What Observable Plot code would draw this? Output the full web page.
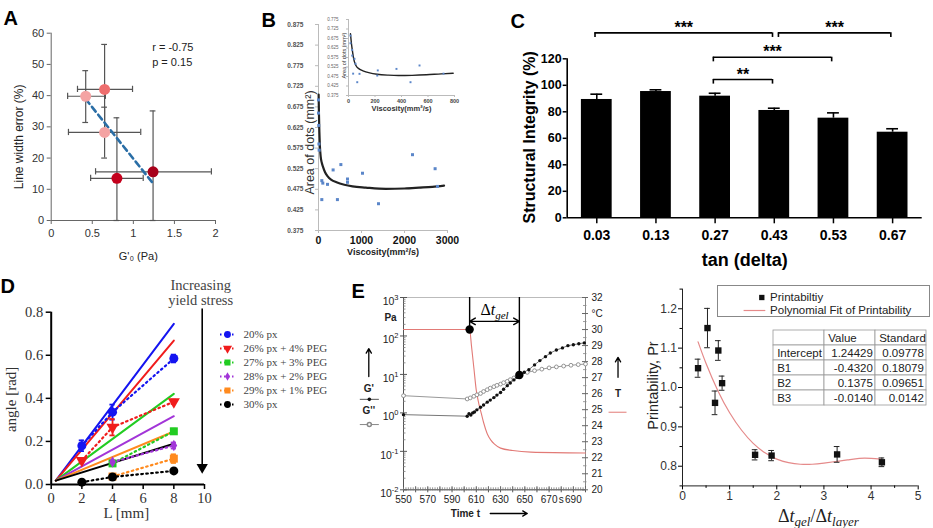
<!DOCTYPE html>
<html><head><meta charset="utf-8">
<script src="https://cdn.jsdelivr.net/npm/d3@7"></script>
<script src="https://cdn.jsdelivr.net/npm/@observablehq/plot@0.6"></script>
<style>
html,body{margin:0;padding:0;background:#fff;}
#fig{position:relative;width:933px;height:528px;overflow:hidden;background:#fff;}
.letter{position:absolute;font-family:"Liberation Sans",Arial,sans-serif;font-weight:bold;font-size:20px;line-height:20px;color:#000;}
</style></head>
<body><div id="fig">
<div class="letter" style="left:3.5px;top:7.5px">A</div>
<div class="letter" style="left:261.5px;top:9.5px">B</div>
<div class="letter" style="left:510.5px;top:10.5px">C</div>
<div class="letter" style="left:0.5px;top:275.5px">D</div>
<div class="letter" style="left:351.5px;top:280.5px">E</div>
</div>
<script>
// ---------------- Panel A data ----------------
const aG0 = [0.42, 0.65, 0.65, 0.80, 1.24];
const aLineErr = [39.8, 42.0, 28.2, 13.5, 15.6];
const aG0Low = [0.20, 0.32, 0.21, 0.48, 0.54];
const aG0High = [0.66, 0.99, 1.09, 1.12, 1.95];
const aErrLow = [31.4, 27.6, 20.0, 0, 0];
const aErrHigh = [48.0, 56.4, 36.3, 32.9, 35.1];
const aFillColors = ["#f4a3a3", "#ee6e6e", "#f4a3a3", "#c4001c", "#a8001a"];
const aFitG0 = [0.42, 1.23];
const aFitErr = [38.9, 12.2];
const aStats = ["r = -0.75", "p = 0.15"];
const aXTicks = [0, 0.5, 1, 1.5, 2];
const aYTicks = [0, 10, 20, 30, 40, 50, 60];

// ---------------- Panel B data ----------------
const bViscosity = [0, 0, 5, 10, 15, 77, 100, 77, 210, 340, 440, 520, 675, 675, 1023, 1395, 2186, 2712, 2767];
const bArea = [0.692, 0.660, 0.630, 0.585, 0.570, 0.496, 0.490, 0.450, 0.487, 0.522, 0.450, 0.535, 0.500, 0.492, 0.514, 0.440, 0.559, 0.525, 0.482];
const bFitViscosity = [3, 10, 20, 30, 50, 75, 107, 150, 209, 300, 419, 600, 791, 1100, 1565, 2000, 2340, 2650, 2920];
const bFitArea = [0.705, 0.660, 0.615, 0.585, 0.555, 0.540, 0.529, 0.517, 0.507, 0.498, 0.492, 0.486, 0.482, 0.479, 0.476, 0.477, 0.479, 0.481, 0.484];
const bYTicks = [0.375, 0.425, 0.475, 0.525, 0.575, 0.625, 0.675, 0.725, 0.775, 0.825, 0.875];
const bXTicks = [0, 1000, 2000, 3000];
const bInsetViscosity = [15, 15, 28, 28, 45, 35, 53, 66, 83, 217, 221, 362, 468, 536, 717];
const bInsetArea = [0.690, 0.650, 0.615, 0.585, 0.568, 0.490, 0.542, 0.445, 0.489, 0.480, 0.507, 0.515, 0.445, 0.533, 0.490];
const bInsetFitViscosity = [15, 22, 29, 40, 56, 80, 109, 160, 216, 300, 376, 480, 589, 700, 790];
const bInsetFitArea = [0.700, 0.650, 0.612, 0.565, 0.533, 0.515, 0.505, 0.494, 0.487, 0.482, 0.480, 0.481, 0.484, 0.489, 0.492];
const bInsetYTicks = [0.375, 0.425, 0.475, 0.525, 0.575, 0.625, 0.675, 0.725, 0.775];
const bInsetXTicks = [0, 200, 400, 600, 800];

// ---------------- Panel C data ----------------
const cTanDelta = ["0.03", "0.13", "0.27", "0.43", "0.53", "0.67"];
const cIntegrity = [89.3, 95.3, 91.8, 81.0, 75.2, 64.6];
const cErrorUp = [4.0, 1.3, 2.2, 1.7, 4.0, 2.6];
const cPairFrom = ["0.03", "0.43", "0.27", "0.27"];
const cPairTo = ["0.43", "0.67", "0.53", "0.43"];
const cPairLevel = [139.6, 139.6, 121.2, 104.4];
const cPairStars = ["***", "***", "***", "**"];
const cYTicks = [0, 20, 40, 60, 80, 100, 120];

// ---------------- Panel D data ----------------
const dSeries = ["20% px", "26% px + 4% PEG", "27% px + 3% PEG", "28% px + 2% PEG", "29% px + 1% PEG", "30% px"];
const dColors = ["#1414f0", "#f01c1c", "#22cc22", "#a235d8", "#ff8a1e", "#000000"];
const dSymbols = ["circle", "triangle", "square", "diamond", "square", "circle"];
const dSymbolTurn = [0, 180, 0, 0, 0, 0];
const dPointSeries = [0, 0, 0, 1, 1, 1, 2, 2, 3, 3, 4, 4, 5, 5, 5];
const dPointL = [2, 4, 8, 2, 4, 8, 4, 8, 4, 8, 4, 8, 2, 4, 8];
const dPointAngle = [0.180, 0.336, 0.585, 0.111, 0.266, 0.384, 0.098, 0.247, 0.104, 0.181, 0.037, 0.120, 0.011, 0.035, 0.063];
const dPointErr = [0.025, 0.035, 0.018, 0.010, 0.038, 0.010, 0.010, 0.012, 0.008, 0.014, 0.008, 0.020, 0.004, 0.004, 0.004];
const dFitL = [0.3, 8];
const dFitStartAngle = 0.018;
const dFitEndAngle = [0.746, 0.668, 0.421, 0.317, 0.246, 0.189];
const dXTicks = [0, 2, 4, 6, 8, 10];
const dYTicks = [0, 0.2, 0.4, 0.6, 0.8];
const dNote = "Increasing\nyield stress";
const dNoteArrow = {L: 9.85, top: 0.815, tip: 0.062};

// ---------------- Panel E data ----------------
const eTempTime = [550, 603, 604.5, 606, 608, 610, 612, 614, 616, 619, 622, 625, 630, 640, 655, 700];
const eTempC = [30, 30, 30, 29.0, 27.6, 26.2, 25.4, 24.8, 24.2, 23.5, 23.1, 22.85, 22.6, 22.45, 22.35, 22.3];
const eGpTime = [550, 602.5, 604, 605.5, 607, 608.5, 610.5, 613.5, 616, 619, 621.5, 624.5, 627, 630, 632.5, 635.5, 638, 641, 643.5, 646, 649.5, 653.3, 658, 662.4, 667, 671, 676, 681, 685.5, 690, 694.5, 699];
const eGpPa = [0.90, 0.82, 0.95, 0.88, 1.00, 1.05, 1.20, 1.40, 1.60, 1.90, 2.15, 2.50, 2.90, 3.40, 4.10, 5.10, 6.00, 7.20, 8.40, 9.80, 11.4, 13.3, 17.7, 22.9, 29.0, 36.0, 43.0, 49.0, 56.0, 59.0, 63.0, 66.0];
const eGppTime = [550, 602.5, 605, 608, 610.5, 613.5, 616, 619, 621.5, 624.5, 627, 630, 632.5, 635.5, 638, 641, 643.5, 646, 652, 658, 664, 670, 676, 682, 688, 694, 700];
const eGppPa = [2.8, 2.3, 2.45, 2.7, 2.95, 3.2, 3.6, 4.0, 4.4, 4.8, 5.2, 5.6, 6.1, 6.6, 7.3, 8.1, 8.9, 9.8, 11.3, 12.5, 13.7, 14.8, 15.7, 16.5, 17.3, 18.0, 18.6];
const eGelTime = [604.5, 645.5];
const eGelPa = [147, 9.7];
const eGelArrowPa = 240;
const eDecades = [0.01, 0.1, 1, 10, 100, 1000];
const eTempTicks = [20, 21, 22, 23, 24, 25, 26, 27, 28, 29, 30, 31, 32];
const eTempTickLabels = ["20", "21", "22", "23", "24", "25", "26", "27", "28", "29", "30", "°C", "32"];
const eTimeTicks = [550, 570, 590, 610, 630, 650, 670, 680, 690];
const eTimeTickLabels = ["550", "570", "590", "610", "630", "650", "670", "s", "690"];
const eSideNotes = [
  {t: 539.3, pa: 302, label: "Pa"},
  {t: 521.4, pa: 4.27, label: "G'"},
  {t: 521.4, pa: 1.15, label: "G''"},
  {t: 726.8, pa: 3.16, label: "T"},
  {t: 601, pa: 0.00242, label: "Time t"}
];
const eSideArrows = [
  {x1: 521.4, x2: 521.4, y1: 8.8, y2: 47},
  {x1: 726.8, x2: 726.8, y1: 8.4, y2: 27.8},
  {x1: 621.5, x2: 652, y1: 0.00242, y2: 0.00242}
];
const eGlyphLines = [
  {t1: 514, t2: 529.7, pa: 2.25, color: "#555"},
  {t1: 514, t2: 529.7, pa: 0.497, color: "#888"},
  {t1: 719, t2: 733.8, pa: 1.04, color: "#e27a76"}
];

// ---------------- Panel F data ----------------
const fGelLayerRatio = [0.33, 0.53, 0.69, 0.76, 0.84, 1.54, 1.89, 3.28, 4.23];
const fPrintability = [1.049, 1.151, 0.961, 1.094, 1.011, 0.829, 0.827, 0.830, 0.810];
const fPrintabilityErr = [0.023, 0.050, 0.030, 0.025, 0.018, 0.013, 0.013, 0.020, 0.011];
const fFitRatio = [0.33, 0.5, 0.75, 1.0, 1.25, 1.5, 1.75, 2.0, 2.25, 2.5, 2.75, 3.0, 3.25, 3.5, 3.75, 4.0, 4.2];
const fFitPrintability = [1.116, 1.061, 0.992, 0.936, 0.892, 0.858, 0.834, 0.818, 0.809, 0.805, 0.805, 0.808, 0.812, 0.816, 0.820, 0.820, 0.818];
const fXTicks = [0, 1, 2, 3, 4, 5];
const fXMinor = [0.5, 1.5, 2.5, 3.5, 4.5];
const fYTicks = [0.8, 0.9, 1.0, 1.1, 1.2];
const fYMinor = [0.75, 0.85, 0.95, 1.05, 1.15, 1.25];
const fLegendLabels = ["Printabiltiy", "Polynomial Fit of Printability"];
const fTableHeader = ["", "Value", "Standard"];
const fTableTerms = ["Intercept", "B1", "B2", "B3"];
const fTableValue = ["1.24429", "-0.4320", "0.1375", "-0.0140"];
const fTableStandard = ["0.09778", "0.18079", "0.09651", "0.0142"];

// ---------------- helpers ----------------
const SANS = '"Liberation Sans", Arial, Helvetica, sans-serif';
const SERIF = '"Liberation Serif", "Times New Roman", serif';
const fig = document.getElementById("fig");
function css(family, size) {
  return {fontFamily: family, fontSize: size + "px", background: "transparent", overflow: "visible", maxWidth: "none", color: "#000"};
}
function put(node, left, top) {
  node.style.position = "absolute";
  node.style.left = left + "px";
  node.style.top = top + "px";
  fig.appendChild(node);
  return node;
}
function richify(svg, map) {
  svg.querySelectorAll("text").forEach(t => {
    if (map.has(t.textContent)) t.innerHTML = map.get(t.textContent);
  });
}
function title(str, opts) {
  return Plot.text([str], {text: d => d, textAnchor: "middle", lineAnchor: "middle", ...opts});
}

// ================= Panel A =================
{
  const data = aG0.map((g, i) => ({g, e: aLineErr[i], gLo: aG0Low[i], gHi: aG0High[i], eLo: aErrLow[i], eHi: aErrHigh[i], fill: aFillColors[i]}));
  const fit = aFitG0.map((g, i) => ({g, e: aFitErr[i]}));
  const capsV = data.flatMap(d => [{g: d.g, e: d.eLo}, {g: d.g, e: d.eHi}]);
  const capsH = data.flatMap(d => [{g: d.gLo, e: d.e}, {g: d.gHi, e: d.e}]);
  put(Plot.plot({
    width: 233, height: 262, marginLeft: 50.7, marginRight: 18, marginTop: 32.7, marginBottom: 42,
    x: {domain: [0, 2]}, y: {domain: [0, 60]}, color: {type: "identity"},
    style: css(SANS, 11),
    marks: [
      Plot.axisX(aXTicks, {tickSize: 4, tickPadding: 5, fontSize: 11, stroke: "#666", fill: "#333", label: null, tickFormat: d => String(d)}),
      Plot.axisY(aYTicks, {tickSize: 4, tickPadding: 3, fontSize: 11, stroke: "#666", fill: "#333", label: null}),
      Plot.ruleX([0], {stroke: "#666"}),
      Plot.ruleY([0], {stroke: "#666"}),
      Plot.ruleY(data, {y: "e", x1: "gLo", x2: "gHi", stroke: "#555", strokeWidth: 1.2}),
      Plot.ruleX(data, {x: "g", y1: "eLo", y2: "eHi", stroke: "#555", strokeWidth: 1.2}),
      Plot.ruleY(capsV, {y: "e", x1: d => d.g - 0.035, x2: d => d.g + 0.035, stroke: "#555", strokeWidth: 1.2}),
      Plot.ruleX(capsH, {x: "g", y1: d => d.e - 1.0, y2: d => d.e + 1.0, stroke: "#555", strokeWidth: 1.2}),
      Plot.line(fit, {x: "g", y: "e", stroke: "#2a6ea6", strokeWidth: 2.6, strokeDasharray: "6,4"}),
      Plot.dot(data, {x: "g", y: "e", r: 5.5, fill: "fill"}),
      Plot.text([aStats.join("\n")], {text: d => d, frameAnchor: "top-left", textAnchor: "start", lineAnchor: "top", dx: 101, dy: 6, lineHeight: 1.45, fontSize: 11, fill: "#222"}),
      title("Line width error (%)", {frameAnchor: "left", rotate: -90, dx: -32, dy: 10, fontSize: 12, fill: "#222"}),
      title("G'₀ (Pa)", {frameAnchor: "bottom", dx: 5, dy: 36, fontSize: 11, fill: "#222"})
    ]
  }), 0, 0);
}

// ================= Panel B =================
{
  const pts = bViscosity.map((v, i) => ({v, a: bArea[i]}));
  const fit = bFitViscosity.map((v, i) => ({v, a: bFitArea[i]}));
  put(Plot.plot({
    width: 230, height: 262, marginLeft: 78, marginRight: 23, marginTop: 24, marginBottom: 32,
    x: {domain: [0, 3000]}, y: {domain: [0.375, 0.875]},
    style: css(SANS, 10),
    marks: [
      Plot.ruleX([0], {stroke: "#bbb"}),
      Plot.ruleY([0.375], {stroke: "#bbb"}),
      Plot.axisY(bYTicks, {tickSize: 3, tickPadding: 12, tickFormat: d3.format(".3f"), fontSize: 6.5, fontWeight: "bold", fill: "#555", stroke: "#bbb", label: null}),
      Plot.axisX(bXTicks, {tickSize: 3, tickPadding: 3, tickFormat: d => String(d), fontSize: 10.5, fontWeight: "bold", fill: "#111", stroke: "#bbb", label: null}),
      Plot.line(fit, {x: "v", y: "a", stroke: "#222", strokeWidth: 2.2, curve: "monotone-x"}),
      Plot.dot(pts, {x: "v", y: "a", symbol: "square", r: 1.7, fill: "#5b86c9"}),
      title("Area of dots (mm²)", {frameAnchor: "left", rotate: -90, dx: -9, dy: 15, fontSize: 12.5, fill: "#333"}),
      title("Viscosity(mm²/s)", {frameAnchor: "bottom", dy: 22, fontSize: 9, fontWeight: "bold", fill: "#222"})
    ]
  }), 240, 0);

  const ipts = bInsetViscosity.map((v, i) => ({v, a: bInsetArea[i]}));
  const ifit = bInsetFitViscosity.map((v, i) => ({v, a: bInsetFitArea[i]}));
  put(Plot.plot({
    width: 162, height: 110, marginLeft: 48, marginRight: 8, marginTop: 9, marginBottom: 25,
    x: {domain: [0, 800]}, y: {domain: [0.375, 0.775]},
    style: css(SANS, 6),
    marks: [
      Plot.ruleX([0], {stroke: "#bbb"}),
      Plot.ruleY([0.375], {stroke: "#bbb"}),
      Plot.axisY(bInsetYTicks, {tickSize: 2, tickPadding: 8, tickFormat: d3.format(".3f"), fontSize: 4.5, fill: "#666", stroke: "#bbb", label: null}),
      Plot.axisX(bInsetXTicks, {tickSize: 2, tickPadding: 2, tickFormat: d => String(d), fontSize: 5.5, fontWeight: "bold", fill: "#444", stroke: "#bbb", label: null}),
      Plot.line(ifit, {x: "v", y: "a", stroke: "#222", strokeWidth: 1.4, curve: "monotone-x"}),
      Plot.dot(ipts, {x: "v", y: "a", symbol: "square", r: 1.1, fill: "#5b86c9"}),
      title("Area of dots (mm²)", {frameAnchor: "left", rotate: -90, dx: -4.5, dy: -2, fontSize: 5.5, fill: "#333"}),
      title("Viscosity(mm²/s)", {frameAnchor: "bottom", dy: 13, fontSize: 7.5, fontWeight: "bold", fill: "#333"})
    ]
  }), 300, 10);
}

// ================= Panel C =================
{
  const data = cTanDelta.map((t, i) => ({i, v: cIntegrity[i], e: cErrorUp[i]}));
  const pairs = cPairFrom.map((f, k) => ({a: cTanDelta.indexOf(f), b: cTanDelta.indexOf(cPairTo[k]), y: cPairLevel[k], s: cPairStars[k]}));
  const joined = p => pairs.some(o => o !== p && o.y === p.y && o.b === p.a);
  const left = p => p.a + (joined(p) ? 0.07 : -0.03);
  const right = p => p.b - 0.03;
  put(Plot.plot({
    width: 463, height: 272, marginLeft: 96.7, marginRight: 11.3, marginTop: 58.3, marginBottom: 54.7,
    x: {domain: [-0.5, 5.5]}, y: {domain: [0, 120]},
    style: css(SANS, 12),
    marks: [
      Plot.rectY(data, {x1: d => d.i - 0.26, x2: d => d.i + 0.26, y: "v", fill: "black"}),
      Plot.ruleX(data, {x: "i", y1: "v", y2: d => d.v + d.e, strokeWidth: 1.6}),
      Plot.ruleY(data, {y: d => d.v + d.e, x1: d => d.i - 0.1, x2: d => d.i + 0.1, strokeWidth: 1.6}),
      Plot.ruleX([-0.5], {y1: 0, y2: 120, strokeWidth: 1.6}),
      Plot.ruleY([0], {strokeWidth: 1.6}),
      Plot.axisY(cYTicks, {tickSize: 4, tickPadding: 1.5, fontSize: 12.5, fontWeight: "bold", label: null, strokeWidth: 1.5}),
      Plot.axisX(d3.range(cTanDelta.length), {tickFormat: i => cTanDelta[i], tickSize: 6, tickPadding: 6, fontSize: 14, fontWeight: "bold", label: null, strokeWidth: 1.5}),
      Plot.ruleY(pairs, {y: "y", x1: left, x2: right, strokeWidth: 1.6}),
      Plot.ruleX(pairs, {x: left, y1: d => d.y - 3.5, y2: "y", strokeWidth: 1.6}),
      Plot.ruleX(pairs, {x: right, y1: d => d.y - 3.5, y2: "y", strokeWidth: 1.6}),
      Plot.text(pairs, {x: d => (left(d) + right(d)) / 2, y: "y", text: "s", dy: -5, fontSize: 16, fontWeight: "bold"}),
      title("Structural Integrity (%)", {frameAnchor: "left", rotate: -90, dx: -37, dy: -1, fontSize: 16, fontWeight: "bold"}),
      title("tan (delta)", {frameAnchor: "bottom", dy: 42, fontSize: 18, fontWeight: "bold"})
    ]
  }), 470, 0);
}

// ================= Panel D =================
{
  const pts = dPointL.map((L, k) => ({s: dPointSeries[k], L, a: dPointAngle[k], e: dPointErr[k]}));
  const fitMarks = [], otherMarks = [], dotMarks = [];
  dSeries.forEach((name, s) => {
    const c = dColors[s];
    const sp = pts.filter(p => p.s === s);
    fitMarks.push(Plot.line([{L: dFitL[0], a: dFitStartAngle}, {L: dFitL[1], a: dFitEndAngle[s]}], {x: "L", y: "a", stroke: c, strokeWidth: 2}));
    otherMarks.push(
      Plot.line(sp, {x: "L", y: "a", stroke: c, strokeWidth: 2.2, strokeDasharray: "1.6,3.4", strokeLinecap: "round"}),
      Plot.ruleX(sp, {x: "L", y1: d => d.a - d.e, y2: d => d.a + d.e, stroke: c, strokeWidth: 1.8}),
      Plot.ruleY(sp.flatMap(p => [{L: p.L, y: p.a - p.e}, {L: p.L, y: p.a + p.e}]), {y: "y", x1: d => d.L - 0.17, x2: d => d.L + 0.17, stroke: c, strokeWidth: 1.8})
    );
    dotMarks.push(Plot.dot(sp, {x: "L", y: "a", symbol: dSymbols[s], rotate: dSymbolTurn[s], r: dSymbols[s] === "diamond" ? 3.5 : 4.5, fill: c}));
  });
  put(Plot.plot({
    width: 215, height: 278, marginLeft: 50.7, marginRight: 11, marginTop: 61.7, marginBottom: 44,
    x: {domain: [0, 10]}, y: {domain: [0, 0.8]},
    style: css(SERIF, 14.5),
    marks: [
      Plot.axisX(dXTicks, {tickSize: 5, tickPadding: 3, fontSize: 14.5, label: null, strokeWidth: 1.5, fill: "#333"}),
      Plot.axisY(dYTicks, {tickSize: 5, tickPadding: 3, fontSize: 14.5, label: null, strokeWidth: 1.5, tickFormat: d3.format(".1f"), fill: "#333"}),
      Plot.ruleX([0], {y1: 0, y2: 0.8, strokeWidth: 2}),
      Plot.ruleY([0], {x1: 0, x2: 10, strokeWidth: 2}),
      ...fitMarks, ...otherMarks, ...dotMarks,
      Plot.ruleX([dNoteArrow], {x: "L", y1: "top", y2: d => d.tip + 0.03, strokeWidth: 1.6}),
      Plot.dot([dNoteArrow], {x: "L", y: d => d.tip + 0.018, symbol: "triangle", rotate: 180, r: 4.2, fill: "black"}),
      Plot.text([dNote], {text: d => d, x: dNoteArrow.L, y: dNoteArrow.top, dx: -1.5, dy: -4, textAnchor: "middle", lineAnchor: "bottom", lineHeight: 1.05, fontSize: 14.5, fill: "#444"}),
      title("angle [rad]", {frameAnchor: "left", rotate: -90, dx: -40, dy: 1, fontSize: 15, fill: "#333"}),
      title("L [mm]", {frameAnchor: "bottom", dx: -1.5, dy: 29, fontSize: 15, fill: "#333"})
    ]
  }), 0, 250);

  put(Plot.plot({
    width: 115, height: 90, marginTop: 0, marginRight: 0, marginBottom: 0, marginLeft: 0,
    x: {domain: [0, 115], range: [0, 115], axis: null},
    y: {type: "point", domain: dSeries, range: [8, 80.5], padding: 0, axis: null},
    style: css(SERIF, 11),
    marks: [
      ...dSeries.map((s, i) => Plot.ruleY([s], {y: d => d, x1: 5, x2: 21, stroke: dColors[i], strokeWidth: 2, strokeDasharray: "1.5,2.5"})),
      ...dSeries.map((s, i) => Plot.dot([s], {x: 12, y: d => d, symbol: dSymbols[i], rotate: dSymbolTurn[i], r: dSymbols[i] === "diamond" ? 2.6 : 3.4, fill: dColors[i]})),
      Plot.text(dSeries, {x: 28, y: d => d, text: d => d, textAnchor: "start", lineAnchor: "middle", fontSize: 11, fill: "#444"})
    ]
  }), 215, 325);
}

// ================= Panel E =================
{
  const tToPa = T => 10 ** ((T - 20) * 5 / 12 - 2);
  const temp = eTempTime.map((t, i) => ({t, T: eTempC[i]}));
  const gp = eGpTime.map((t, i) => ({t, pa: eGpPa[i]}));
  const gpp = eGppTime.map((t, i) => ({t, pa: eGppPa[i]}));
  const gel = eGelTime.map((t, i) => ({t, pa: eGelPa[i]}));
  const gelMid = (eGelTime[0] + eGelTime[1]) / 2;
  const tempTicks = eTempTicks.map((T, i) => ({T, label: eTempTickLabels[i]}));
  const minorLog = eDecades.slice(0, -1).flatMap(d => [2, 3, 4, 5, 6, 7, 8, 9].map(m => d * m));
  const minorTemp = eTempTicks.slice(0, -1).map(T => T + 0.5);
  const majorTime = d3.range(550, 701, 10);
  const minorTime = d3.range(550, 701, 2);
  const W = 300, ML = 73, MR = 45, H = 278, MT = 47, MB = 38.7;
  const fw = W - ML - MR, fh = H - MT - MB;
  const svg = put(Plot.plot({
    width: W, height: H, marginLeft: ML, marginRight: MR, marginTop: MT, marginBottom: MB,
    x: {domain: [550, 700]}, y: {type: "log", domain: [0.01, 1000]},
    style: css(SANS, 10),
    marks: [
      Plot.frame({stroke: "#bbb"}),
      Plot.ruleX([550], {stroke: "#555"}),
      Plot.ruleY([0.01], {stroke: "#555"}),
      Plot.ruleX([700], {stroke: "#888"}),
      Plot.tickY(eDecades, {y: d => d, insetLeft: -3, insetRight: fw - 4, stroke: "#555"}),
      Plot.tickY(minorLog, {y: d => d, insetLeft: 0, insetRight: fw - 2.5, stroke: "#777", strokeWidth: 0.8}),
      Plot.axisY(eDecades, {tickSize: 0, tickPadding: 5, tickFormat: d => "10^" + Math.round(Math.log10(d)), fontSize: 10.5, dy: 4, label: null, fill: "#222"}),
      Plot.tickY(eTempTicks, {y: tToPa, insetLeft: fw - 3, insetRight: -3, stroke: "#666"}),
      Plot.tickY(minorTemp, {y: tToPa, insetLeft: fw - 2, insetRight: -1.5, stroke: "#888", strokeWidth: 0.8}),
      Plot.text(tempTicks, {x: 700, y: d => tToPa(d.T), text: "label", textAnchor: "start", lineAnchor: "middle", dx: 6, fontSize: 10, fill: "#222"}),
      Plot.tickX(majorTime, {x: d => d, insetTop: fh - 3, insetBottom: -3, stroke: "#555"}),
      Plot.tickX(minorTime, {x: d => d, insetTop: fh - 2, insetBottom: -1, stroke: "#777", strokeWidth: 0.8}),
      Plot.axisX(eTimeTicks, {tickSize: 0, tickPadding: 6, tickFormat: d => eTimeTickLabels[eTimeTicks.indexOf(d)], fontSize: 10, label: null, fill: "#222"}),
      Plot.line(temp, {x: "t", y: d => tToPa(d.T), stroke: "#e27a76", strokeWidth: 1.1, curve: "monotone-x"}),
      Plot.line(gpp, {x: "t", y: "pa", stroke: "#999", strokeWidth: 1}),
      Plot.line(gp, {x: "t", y: "pa", stroke: "#777", strokeWidth: 1}),
      Plot.dot(gpp, {x: "t", y: "pa", r: 1.9, stroke: "#888", fill: "white", strokeWidth: 0.9}),
      Plot.dot(gp, {x: "t", y: "pa", r: 1.7, fill: "#111"}),
      Plot.ruleX(gel, {x: "t", y1: "pa", y2: 1000, strokeWidth: 1.4}),
      Plot.dot(gel, {x: "t", y: "pa", r: 4.2, fill: "black"}),
      Plot.arrow(eGelTime, {x1: () => gelMid, x2: d => d, y1: eGelArrowPa, y2: eGelArrowPa, headLength: 7, strokeWidth: 1.4}),
      Plot.text(["Δt_gel"], {text: d => d, x: gelMid, y: 1000, dy: 12, textAnchor: "middle", lineAnchor: "middle", fontFamily: SERIF, fontSize: 16}),
      Plot.text(eSideNotes, {x: "t", y: "pa", text: "label", textAnchor: "middle", lineAnchor: "middle", fontSize: 10, fontWeight: "bold", fill: "#222"}),
      Plot.arrow(eSideArrows, {x1: "x1", x2: "x2", y1: "y1", y2: "y2", headLength: 6, strokeWidth: 1.3}),
      Plot.link(eGlyphLines, {x1: "t1", x2: "t2", y1: "pa", y2: "pa", stroke: "color", strokeWidth: 1}),
      Plot.dot([eGlyphLines[0]], {x: d => (d.t1 + d.t2) / 2, y: "pa", r: 1.8, fill: "#111"}),
      Plot.dot([eGlyphLines[1]], {x: d => (d.t1 + d.t2) / 2, y: "pa", r: 2, fill: "white", stroke: "#888"})
    ]
  }), 330, 250);
  const m = new Map(eDecades.map(d => { const k = Math.round(Math.log10(d)); return ["10^" + k, `10<tspan dy="-5" font-size="7.5">${k}</tspan>`]; }));
  m.set("Δt_gel", `Δ<tspan font-style="italic">t</tspan><tspan font-style="italic" font-size="11" dy="4">gel</tspan>`);
  richify(svg, m);
}

// ================= Panel F =================
{
  const data = fGelLayerRatio.map((x, i) => ({x, y: fPrintability[i], e: fPrintabilityErr[i]}));
  const fit = fFitRatio.map((x, i) => ({x, y: fFitPrintability[i]}));
  const caps = data.flatMap(d => [{x: d.x, y: d.y - d.e}, {x: d.x, y: d.y + d.e}]);
  const svg = put(Plot.plot({
    width: 303, height: 278, marginLeft: 52, marginRight: 15.3, marginTop: 38.6, marginBottom: 42.6,
    x: {domain: [0, 5]}, y: {domain: [0.75, 1.25]},
    style: css(SANS, 12),
    marks: [
      Plot.ruleX([0], {stroke: "#222"}),
      Plot.ruleY([0.75], {stroke: "#222"}),
      Plot.axisY(fYTicks, {tickSize: 4, tickPadding: 1.5, tickFormat: d3.format(".1f"), fontSize: 12, label: null, fill: "#333"}),
      Plot.axisY(fYMinor, {tickSize: 2.5, tickFormat: () => "", label: null}),
      Plot.axisX(fXTicks, {tickSize: 4, tickPadding: 2, fontSize: 12, label: null, fill: "#333"}),
      Plot.axisX(fXMinor, {tickSize: 2.5, tickFormat: () => "", label: null}),
      Plot.line(fit, {x: "x", y: "y", stroke: "#e58a8a", strokeWidth: 1.2, curve: "natural"}),
      Plot.ruleX(data, {x: "x", y1: d => d.y - d.e, y2: d => d.y + d.e, stroke: "#222", strokeWidth: 1}),
      Plot.ruleY(caps, {y: "y", x1: d => d.x - 0.06, x2: d => d.x + 0.06, stroke: "#222", strokeWidth: 1}),
      Plot.dot(data, {x: "x", y: "y", symbol: "square", r: 3.6, fill: "#111"}),
      title("Printability, Pr", {frameAnchor: "left", rotate: -90, dx: -28.7, dy: -2, fontSize: 14.5, fill: "#222"}),
      title("Δt_gel/Δt_layer", {frameAnchor: "bottom", dx: 18, dy: 30, fontSize: 18, fontFamily: SERIF, fill: "#222"})
    ]
  }), 630, 250);
  richify(svg, new Map([["Δt_gel/Δt_layer",
    `Δ<tspan font-style="italic">t</tspan><tspan font-style="italic" font-size="13" dy="4">gel</tspan><tspan dy="-4">/Δ</tspan><tspan font-style="italic">t</tspan><tspan font-style="italic" font-size="13" dy="4">layer</tspan>`]]));

  put(Plot.plot({
    width: 212, height: 31, marginTop: 0, marginRight: 0, marginBottom: 0, marginLeft: 0,
    x: {domain: [0, 212], range: [0, 212], axis: null},
    y: {type: "point", domain: fLegendLabels, range: [11.7, 25], padding: 0, axis: null},
    style: css(SANS, 11.5),
    marks: [
      Plot.frame({stroke: "#888", fill: "white"}),
      Plot.dot([fLegendLabels[0]], {x: 44.3, y: d => d, symbol: "square", r: 3, fill: "#111"}),
      Plot.ruleY([fLegendLabels[1]], {y: d => d, x1: 26.6, x2: 48.3, stroke: "#e58a8a", strokeWidth: 1.2}),
      Plot.text(fLegendLabels, {x: 52.6, y: d => d, text: d => d, textAnchor: "start", lineAnchor: "middle", fontSize: 11.5, fill: "#222"})
    ]
  }), 716.7, 285);

  const cols = ["term", "value", "standard"];
  const rows = ["head", ...fTableTerms];
  const colText = [fTableTerms, fTableValue, fTableStandard];
  const cells = rows.flatMap((r, ri) => cols.map((c, ci) => ({r, c, text: ri === 0 ? fTableHeader[ci] : colText[ci][ri - 1]})));
  const bw = 155 / 3;
  put(Plot.plot({
    width: 155, height: 75, marginTop: 0, marginRight: 0, marginBottom: 0, marginLeft: 0,
    x: {type: "band", domain: cols, padding: 0, axis: null},
    y: {type: "band", domain: rows, padding: 0, axis: null},
    style: css(SANS, 11.5),
    marks: [
      Plot.cell(cells, {x: "c", y: "r", fill: "white", stroke: "#999", strokeWidth: 0.8}),
      Plot.text(cells.filter(d => d.c === "term" || d.r === "head"), {x: "c", y: "r", text: "text", textAnchor: "start", lineAnchor: "middle", dx: -bw / 2 + 4, fontSize: 11.5, fill: "#222"}),
      Plot.text(cells.filter(d => d.c !== "term" && d.r !== "head"), {x: "c", y: "r", text: "text", textAnchor: "end", lineAnchor: "middle", dx: bw / 2 - 3, fontSize: 11.5, fill: "#222"})
    ]
  }), 771.7, 330);
}
</script></body></html>
